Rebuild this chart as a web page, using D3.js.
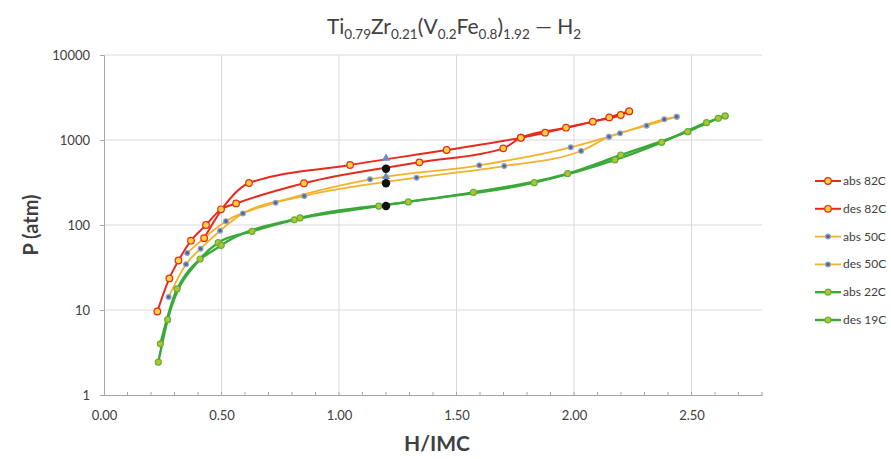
<!DOCTYPE html>
<html>
<head>
<meta charset="utf-8">
<script src="https://cdn.jsdelivr.net/npm/d3@7"></script>
<style>
  body { margin: 0; background: #fff; }
  text { font-family: Lato, "Open Sans", sans-serif; fill: #404040; }
</style>
</head>
<body>
<svg id="chart" width="891" height="459"></svg>
<script>
// series data: [H/IMC, P atm]
var abs82 = [[0.426, 70], [0.52, 180], [0.617, 312], [1.047, 508], [1.458, 763], [1.774, 1064],
    [1.877, 1219], [2.08, 1641], [2.199, 1968], [2.235, 2177]];
var des82 = [[0.227, 9.6], [0.278, 23.5], [0.317, 38.2], [0.370, 65.4], [0.434, 100],
    [0.498, 153], [0.562, 179], [0.851, 310], [1.342, 546], [1.699, 798], [1.774, 1064],
    [1.966, 1396], [2.15, 1845], [2.235, 2177]];
var abs50 = [[0.354, 46.9], [0.519, 111], [0.73, 183], [1.132, 345], [1.597, 504],
    [1.986, 820], [2.149, 1094], [2.196, 1199], [2.384, 1750], [2.437, 1880]];
var des50 = [[0.275, 14.2], [0.349, 34.5], [0.411, 52.6], [0.494, 85.7], [0.591, 137],
    [0.852, 219], [1.33, 360], [1.703, 494], [2.03, 743], [2.149, 1094], [2.309, 1473],
    [2.437, 1880]];
var abs22 = [[0.231, 2.43], [0.271, 7.7], [0.409, 39.8], [0.486, 62], [0.63, 84.3],
    [0.81, 115], [1.169, 167], [1.572, 242], [1.973, 402], [2.199, 666], [2.484, 1253],
    [2.614, 1800], [2.643, 1915]];
var des19 = [[0.240, 4.0], [0.311, 17.7], [0.499, 57.7], [0.834, 121], [1.295, 187],
    [1.831, 315], [2.174, 582], [2.373, 939], [2.564, 1600], [2.643, 1915]];
// extra marked points at H/IMC = 1.2
var triPoints = [[1.2, 609], [1.2, 370]];
var dotPoints = [[1.2, 459], [1.2, 310], [1.2, 167]];

var legendNames = ["abs 82C", "des 82C", "abs 50C", "des 50C", "abs 22C", "des 19C"];
var xTicks = [0, 0.5, 1, 1.5, 2, 2.5];
var yTicks = [1, 10, 100, 1000, 10000];

var series = [
    { name: legendNames[0], data: abs82, line: "#e8291c", fill: "#ffd33d", stroke: "#e8291c", r: 3.3, w: 2 },
    { name: legendNames[1], data: des82, line: "#e8291c", fill: "#ffd33d", stroke: "#e8291c", r: 3.3, w: 2 },
    { name: legendNames[2], data: abs50, line: "#f4b12a", fill: "#4f6796", stroke: "#8fa2c4", r: 2.4, w: 1.8 },
    { name: legendNames[3], data: des50, line: "#f4b12a", fill: "#4f6796", stroke: "#8fa2c4", r: 2.4, w: 1.8 },
    { name: legendNames[4], data: abs22, line: "#3aa93a", fill: "#b8c22c", stroke: "#5cb03a", r: 3, w: 2.4 },
    { name: legendNames[5], data: des19, line: "#3aa93a", fill: "#b8c22c", stroke: "#5cb03a", r: 3, w: 2.4 }
];

var svg = d3.select("#chart");
var x = d3.scaleLinear().domain([0, 2.8]).range([104, 762]);
var y = d3.scaleLog().domain([1, 10000]).range([395, 55]);

// grid
svg.append("g").selectAll("line").data(xTicks.slice(1)).enter().append("line")
    .attr("x1", function (d) { return x(d); }).attr("x2", function (d) { return x(d); })
    .attr("y1", y(10000)).attr("y2", y(1))
    .style("stroke", "#d9d9d9").style("stroke-width", 1);
svg.append("g").selectAll("line").data(yTicks.slice(1)).enter().append("line")
    .attr("x1", x(0)).attr("x2", x(2.8))
    .attr("y1", function (d) { return y(d); }).attr("y2", function (d) { return y(d); })
    .style("stroke", "#d9d9d9").style("stroke-width", 1);

// x axis
var xAxis = svg.append("g").attr("transform", "translate(0," + y(1) + ")")
    .call(d3.axisBottom(x).tickValues(xTicks).tickFormat(d3.format(".2f")).tickSize(0).tickPadding(16));
xAxis.select(".domain").style("stroke", "#a6a6a6");
xAxis.selectAll("text").style("font-size", "13px").style("fill", "#404040")
    .style("font-family", "Lato, 'Open Sans', sans-serif");
svg.append("g").selectAll("line").data(d3.range(1, 29)).enter().append("line")
    .attr("x1", function (d) { return x(d / 10); }).attr("x2", function (d) { return x(d / 10); })
    .attr("y1", y(1) - 3).attr("y2", y(1) + 1)
    .style("stroke", "#a6a6a6");

// y axis
var yAxis = svg.append("g").attr("transform", "translate(" + x(0) + ",0)")
    .call(d3.axisLeft(y).tickValues(yTicks).tickFormat(d3.format("d")).tickSize(4).tickPadding(10));
yAxis.select(".domain").style("stroke", "#a6a6a6");
yAxis.selectAll(".tick line").style("stroke", "#a6a6a6");
yAxis.selectAll("text").style("font-size", "13px").style("fill", "#404040")
    .style("font-family", "Lato, 'Open Sans', sans-serif");

// lines
var line = d3.line()
    .x(function (d) { return x(d[0]); })
    .y(function (d) { return y(d[1]); })
    .curve(d3.curveMonotoneX);

series.forEach(function (s) {
    svg.append("path")
        .attr("d", line(s.data))
        .style("fill", "none")
        .style("stroke", s.line)
        .style("stroke-width", s.w);
});
series.forEach(function (s) {
    // the helper bend point on abs 82C has no marker
    var pts = s.data.filter(function (d) { return !(s.data === abs82 && d[0] === 0.52); });
    svg.append("g").selectAll("circle").data(pts).enter().append("circle")
        .attr("cx", function (d) { return x(d[0]); })
        .attr("cy", function (d) { return y(d[1]); })
        .attr("r", s.r)
        .style("fill", s.fill)
        .style("stroke", s.stroke)
        .style("stroke-width", 1.2);
});

// extra points
svg.append("g").selectAll("path").data(triPoints).enter().append("path")
    .attr("d", d3.symbol().type(d3.symbolTriangle).size(30))
    .attr("transform", function (d) { return "translate(" + x(d[0]) + "," + y(d[1]) + ")"; })
    .style("fill", "#6a8cc7");
svg.append("g").selectAll("circle").data(dotPoints).enter().append("circle")
    .attr("cx", function (d) { return x(d[0]); })
    .attr("cy", function (d) { return y(d[1]); })
    .attr("r", 4.2)
    .style("fill", "#111");

// legend
var legend = svg.append("g").selectAll("g").data(series).enter().append("g")
    .attr("transform", function (d, i) { return "translate(815," + (181 + i * 27.8) + ")"; });
legend.append("line").attr("x1", 0).attr("x2", 26)
    .style("stroke", function (d) { return d.line; }).style("stroke-width", function (d) { return d.w; });
legend.append("circle").attr("cx", 13).attr("r", function (d) { return d.r; })
    .style("fill", function (d) { return d.fill; })
    .style("stroke", function (d) { return d.stroke; }).style("stroke-width", 1.2);
legend.append("text").attr("x", 28).attr("y", 4)
    .style("font-size", "12px")
    .text(function (d) { return d.name; });

// title
var title = svg.append("text").attr("x", 454).attr("y", 34)
    .attr("text-anchor", "middle").style("font-size", "21px");
[["Ti", 0], ["0.79", 1], ["Zr", 0], ["0.21", 1], ["(V", 0], ["0.2", 1], ["Fe", 0], ["0.8", 1],
 [")", 0], ["1.92", 1], [" \u2014 H", 0], ["2", 1]].forEach(function (p, i, arr) {
    var prev = i > 0 ? arr[i - 1][1] : 0;
    var t = title.append("tspan").text(p[0]);
    if (p[1]) t.style("font-size", "13.5px");
    if (p[1] !== prev) t.attr("dy", p[1] ? 5 : -5);
});

// axis titles
svg.append("text").attr("transform", "translate(38,225) rotate(-90)")
    .attr("text-anchor", "middle").style("font-size", "20px").style("font-weight", "bold")
    .text("P (atm)");
svg.append("text").attr("x", 437).attr("y", 451)
    .attr("text-anchor", "middle").style("font-size", "21px").style("font-weight", "bold")
    .text("H/IMC");
</script>
</body>
</html>
